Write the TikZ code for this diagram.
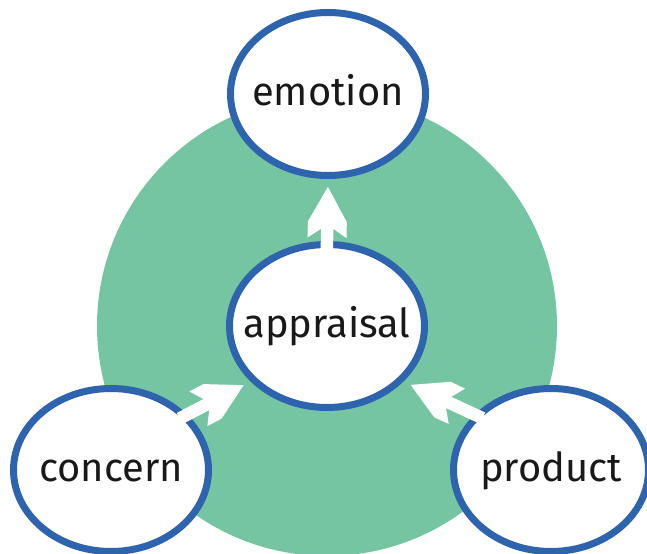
\documentclass[tikz,border=0pt]{standalone}
\usepackage{fontspec}
\setmainfont{Fira Sans}
\usetikzlibrary{arrows.meta,shapes.geometric}
\definecolor{ringblue}{HTML}{2E63AD}
\definecolor{discgreen}{HTML}{76C5A2}
% barbed head with flat back edges
\pgfdeclarearrow{
  name=Barb,
  setup code={
    \pgfarrowssettipend{0pt}
    \pgfarrowssetlineend{-22pt}
    \pgfarrowssetbackend{-29pt}
    \pgfarrowssetvisualbackend{-29pt}
    \pgfarrowshullpoint{0pt}{0pt}
    \pgfarrowsupperhullpoint{-29pt}{11.1pt}
  },
  drawing code={
    \pgfpathmoveto{\pgfpoint{0pt}{0pt}}
    \pgfpathlineto{\pgfpoint{-19.9pt}{11.1pt}}
    \pgfpathlineto{\pgfpoint{-29pt}{11.1pt}}
    \pgfpathlineto{\pgfpoint{-23.9pt}{3.6pt}}
    \pgfpathlineto{\pgfpoint{-23.9pt}{-3.6pt}}
    \pgfpathlineto{\pgfpoint{-29pt}{-11.1pt}}
    \pgfpathlineto{\pgfpoint{-19.9pt}{-11.1pt}}
    \pgfpathclose
    \pgfusepathqfill
  }
}
\tikzset{
  bubble/.style={ellipse, draw=ringblue, fill=white, line width=0.14cm,
    minimum width=3.9cm, minimum height=3.26cm, inner xsep=-12pt, inner ysep=0pt,
    text height=16pt, text depth=2.4pt, font=\fontsize{22.7}{27}\selectfont, text=black!90},
  flow/.style={draw=white, line width=7.1pt, -Barb, shorten >=4.5pt, shorten <=-5pt}
}
\begin{document}
\begin{tikzpicture}
    \useasboundingbox (0,0) rectangle (12.94,11.06);
    % Disc
    \fill[discgreen] (6.54,4.54) circle (4.6cm);
    % Bubbles
    \node[bubble] (emotion) at (6.56,9.18) {emotion};
    \node[bubble] (appraisal) at (6.54,4.54) {appraisal};
    \node[bubble] (concern) at (2.22,1.66) {concern};
    \node[bubble] (product) at (11.02,1.66) {product};
    % Arrows
    \draw[flow] (appraisal.north) -- (emotion.south);
    \draw[flow] (concern.36) -- (appraisal.216);
    \draw[flow] (product.144) -- (appraisal.324);
\end{tikzpicture}
\end{document}
